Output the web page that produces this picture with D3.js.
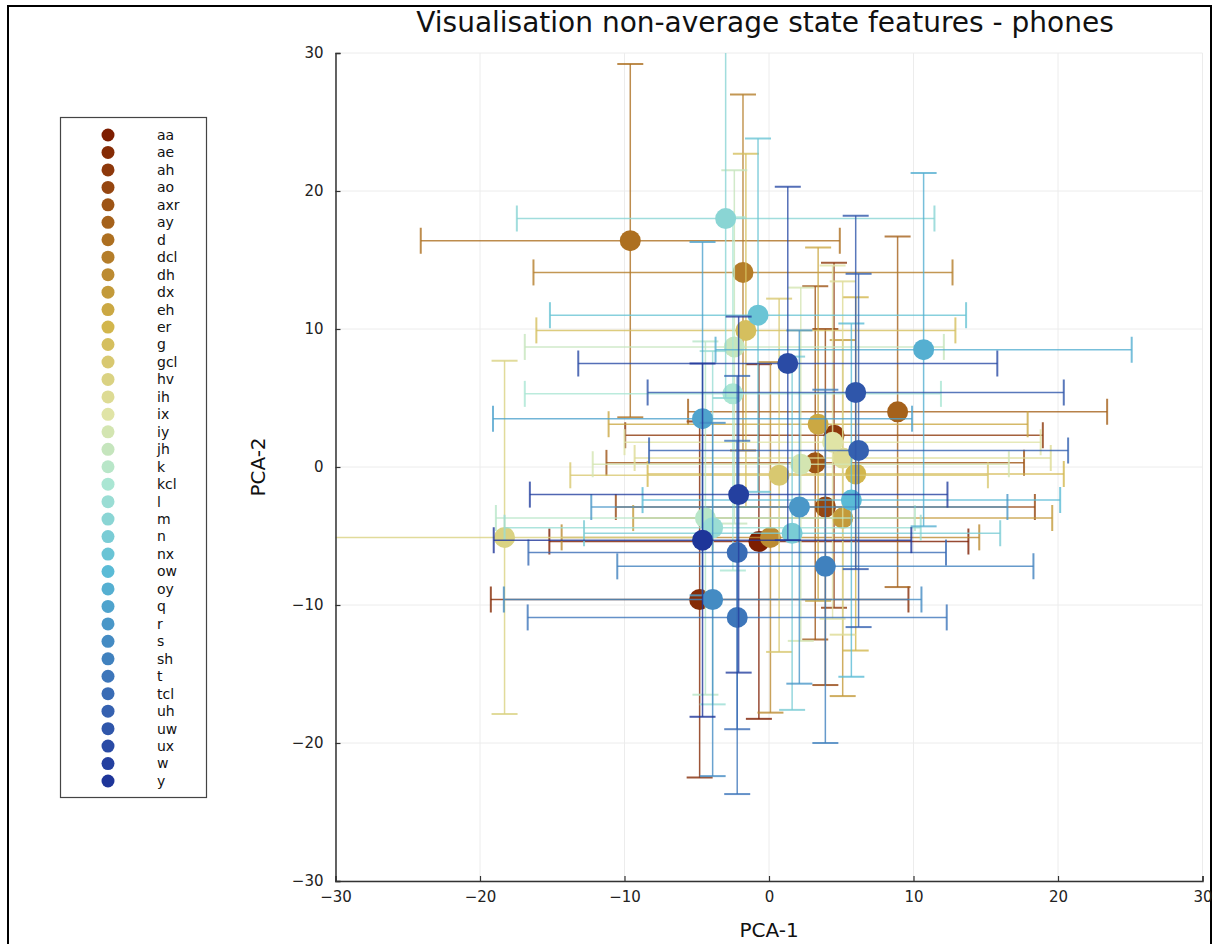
<!DOCTYPE html>
<html>
<head>
<meta charset="utf-8">
<script src="https://cdn.jsdelivr.net/npm/d3@7"></script>
<style>
  body { margin: 0; background: #fff; }
  text { font-family: "DejaVu Sans", sans-serif; }
</style>
</head>
<body>
<script>
// phone labels, in legend order
var phones = ["aa","ae","ah","ao","axr","ay","d","dcl","dh","dx","eh","er","g","gcl","hv","ih","ix","iy",
  "jh","k","kcl","l","m","n","nx","ow","oy","q","r","s","sh","t","tcl","uh","uw","ux","w","y"];
// mean position (PCA-1, PCA-2)
var meanX = [-0.7,-4.8,4.5,3.9,3.2,8.9,-9.6,-1.8,0.1,5.1,3.4,6.0,-1.6,0.7,-18.3,5.1,4.4,2.2,
  -2.4,-4.4,-2.5,-3.9,-3.0,1.6,-0.76,5.7,10.7,-4.6,2.1,-3.9,3.9,-2.2,-2.2,6.2,6.0,1.3,-2.1,-4.6];
var meanY = [-5.4,-9.6,2.3,-2.9,0.3,4.0,16.4,14.1,-5.1,-3.7,3.1,-0.5,9.9,-0.6,-5.1,0.65,1.8,0.2,
  8.7,-3.7,5.3,-4.4,18.0,-4.8,11.0,-2.4,8.5,3.5,-2.9,-9.6,-7.2,-10.9,-6.2,1.2,5.4,7.5,-2.0,-5.3];
// error half widths
var errX = [14.5,14.45,14.45,14.5,14.45,14.5,14.5,14.5,14.45,14.5,14.5,14.4,14.5,14.45,14.4,14.4,14.4,14.4,
  14.5,14.5,14.4,14.4,14.45,14.4,14.4,14.45,14.4,14.5,14.4,14.45,14.4,14.5,14.45,14.5,14.4,14.5,14.45,14.45];
var errY = [12.85,12.9,12.5,12.9,12.8,12.7,12.8,12.9,12.7,12.9,12.8,12.8,12.8,12.8,12.8,12.8,12.8,12.8,
  12.8,12.8,12.8,12.8,13.0,12.8,12.8,12.8,12.8,12.8,12.8,12.8,12.8,12.8,12.8,12.8,12.8,12.8,12.9,12.8];
var ticks = [-30,-20,-10,0,10,20,30];

var W = 1216, H = 944;
var svg = d3.select("body").append("svg").attr("width", W).attr("height", H);

// outer frame
svg.append("rect").attr("x", 8).attr("y", 6).attr("width", 1203).attr("height", 960)
  .attr("fill", "none").attr("stroke", "#000").attr("stroke-width", 2);

var x = d3.scaleLinear().domain([-30, 30]).range([335.5, 1202.5]);
var y = d3.scaleLinear().domain([-30, 30]).range([881, 53]);

var color = d3.scaleLinear()
  .domain([0, 6, 11, 16, 20, 25, 29, 33, 37])
  .range(["#7d1d00", "#ad6f20", "#d2b64c", "#e0e4a6", "#aae6d3", "#5abbd6", "#448bc3", "#3561b0", "#1e3599"])
  .interpolate(d3.interpolateRgb);

// grid
var grid = svg.append("g");
grid.selectAll(".gx").data(ticks).enter().append("line")
  .attr("x1", d => x(d)).attr("x2", d => x(d)).attr("y1", y(-30)).attr("y2", y(30))
  .attr("stroke", "#ececec").attr("stroke-width", 1);
grid.selectAll(".gy").data(ticks).enter().append("line")
  .attr("y1", d => y(d)).attr("y2", d => y(d)).attr("x1", x(-30)).attr("x2", x(30))
  .attr("stroke", "#ececec").attr("stroke-width", 1);

svg.append("defs").append("clipPath").attr("id", "plotclip")
  .append("rect").attr("x", x(-30)).attr("y", y(30)).attr("width", x(30) - x(-30)).attr("height", y(-30) - y(30));

var plot = svg.append("g").attr("clip-path", "url(#plotclip)");
var cap = 13;

phones.forEach(function (p, i) {
  var c = color(i);
  var g = plot.append("g").attr("class", "series");
  var cx = x(meanX[i]), cy = y(meanY[i]);
  var y0 = y(meanY[i] - errY[i]), y1 = y(meanY[i] + errY[i]);
  var x0 = x(meanX[i] - errX[i]), x1 = x(meanX[i] + errX[i]);
  var bars = g.append("g").attr("stroke", c).attr("stroke-opacity", 0.8).attr("fill", "none");
  // vertical error bar
  bars.append("line").attr("x1", cx).attr("x2", cx).attr("y1", y0).attr("y2", y1).attr("stroke-width", 1.5);
  [y0, y1].forEach(function (yy) {
    bars.append("line").attr("x1", cx - cap).attr("x2", cx + cap).attr("y1", yy).attr("y2", yy).attr("stroke-width", 2);
  });
  // horizontal error bar
  bars.append("line").attr("y1", cy).attr("y2", cy).attr("x1", x0).attr("x2", x1).attr("stroke-width", 1.5);
  [x0, x1].forEach(function (xx) {
    bars.append("line").attr("y1", cy - cap).attr("y2", cy + cap).attr("x1", xx).attr("x2", xx).attr("stroke-width", 2);
  });
  g.append("circle").attr("cx", cx).attr("cy", cy).attr("r", 10.5).attr("fill", c);
});

// axes
var xAxis = d3.axisBottom(x).tickValues(ticks).tickSize(-5).tickPadding(10)
  .tickFormat(d => d < 0 ? "\u2212" + Math.abs(d) : d);
var yAxis = d3.axisLeft(y).tickValues(ticks).tickSize(-5).tickPadding(12)
  .tickFormat(d => d < 0 ? "\u2212" + Math.abs(d) : d);

var gx = svg.append("g").attr("transform", "translate(0," + y(-30) + ")").call(xAxis);
var gy = svg.append("g").attr("transform", "translate(" + x(-30) + ",0)").call(yAxis);
[gx, gy].forEach(function (a) {
  a.select(".domain").attr("stroke", "#333").attr("stroke-width", 1.5);
  a.selectAll(".tick line").attr("stroke", "#333").attr("stroke-width", 1.2);
  a.selectAll(".tick text").attr("font-size", 15).attr("fill", "#222").attr("font-family", "DejaVu Sans");
});

// labels
svg.append("text").attr("x", 765).attr("y", 32).attr("text-anchor", "middle")
  .attr("font-size", 28).attr("fill", "#111").text("Visualisation non-average state features - phones");
svg.append("text").attr("x", 769).attr("y", 937).attr("text-anchor", "middle")
  .attr("font-size", 20).attr("fill", "#111").text("PCA-1");
svg.append("text").attr("transform", "translate(265,467) rotate(-90)").attr("text-anchor", "middle")
  .attr("font-size", 20).attr("fill", "#111").text("PCA-2");

// legend
var leg = svg.append("g");
leg.append("rect").attr("x", 60.5).attr("y", 117.5).attr("width", 146).attr("height", 680)
  .attr("fill", "#fff").attr("stroke", "#444").attr("stroke-width", 1.2);
var item = leg.selectAll(".item").data(phones).enter().append("g")
  .attr("transform", (d, i) => "translate(0," + (135 + i * 17.46) + ")");
item.append("circle").attr("cx", 108).attr("cy", 0).attr("r", 6.5).attr("fill", (d, i) => color(i));
item.append("text").attr("x", 157).attr("y", 0).attr("dy", "0.35em")
  .attr("font-size", 14).attr("fill", "#111").text(d => d);
</script>
</body>
</html>
